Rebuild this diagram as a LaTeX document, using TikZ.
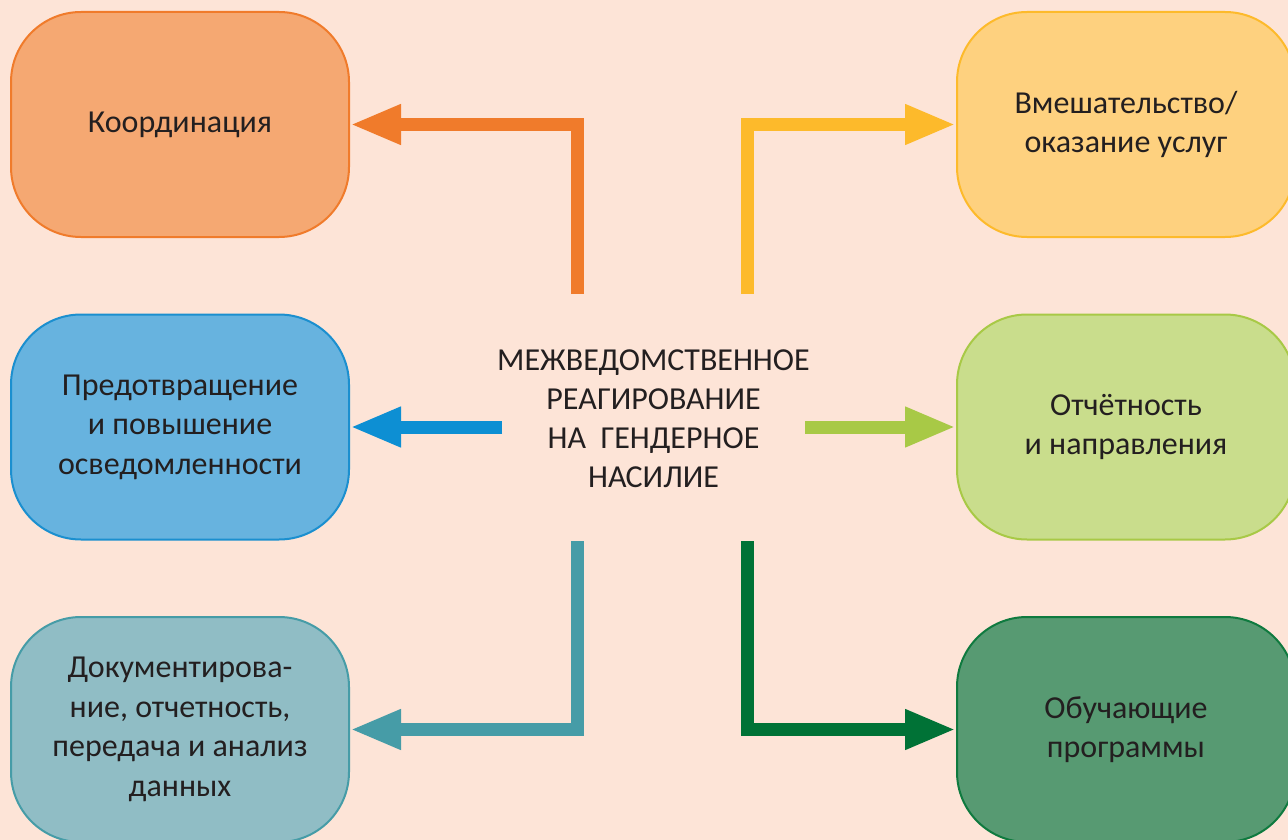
\documentclass[tikz,border=0pt]{standalone}
\usepackage{fontspec}
\setmainfont{Carlito}
\usetikzlibrary{arrows.meta}
\definecolor{bgpeach}{HTML}{FDE4D7}
\definecolor{textgray}{HTML}{231F20}
\definecolor{orangeA}{HTML}{F07B2B}
\definecolor{orangeF}{HTML}{F5A872}
\definecolor{yellowA}{HTML}{FDBA2B}
\definecolor{yellowF}{HTML}{FED17F}
\definecolor{blueA}{HTML}{0D8FD3}
\definecolor{blueB}{HTML}{1B8FCF}
\definecolor{blueF}{HTML}{67B3DF}
\definecolor{lgreenA}{HTML}{A8C946}
\definecolor{lgreenF}{HTML}{C9DD8C}
\definecolor{tealA}{HTML}{469CA7}
\definecolor{tealF}{HTML}{90BDC5}
\definecolor{dgreenA}{HTML}{007236}
\definecolor{dgreenB}{HTML}{0F7A3F}
\definecolor{dgreenF}{HTML}{579A72}
\tikzstyle{topic} = [rectangle, rounded corners=70pt, minimum width=338pt, minimum height=225pt, align=center, line width=2pt, text=textgray, font=\fontsize{32}{39.5}\selectfont]
\tikzstyle{hub} = [rectangle, inner sep=0pt, align=center, text=textgray, font=\fontsize{32}{39}\selectfont]
\tikzstyle{pipe} = [line width=13pt, -{Triangle[width=37pt,length=51pt]}]
\begin{document}
\begin{tikzpicture}[x=1pt, y=-1pt, node distance=302.5pt]
\clip (0,0) rectangle (1288,840);
\fill [bgpeach] (0,0) rectangle (1288,840);
\node (ko) [topic, draw=orangeA, fill=orangeF] at (180,124.5) {Координация};
\node (pr) [topic, draw=blueB, fill=blueF, below of=ko] {Предотвращение\\и повышение\\осведомленности};
\node (dok) [topic, draw=tealA, fill=tealF, below of=pr] {Документирова-\\ние, отчетность,\\передача и анализ\\данных};
\node (vm) [topic, draw=yellowA, fill=yellowF, right of=ko, xshift=643.5pt] {Вмешательство/\\оказание услуг};
\node (ot) [topic, draw=lgreenA, fill=lgreenF, below of=vm] {Отчётность\\и направления};
\node (ob) [topic, draw=dgreenB, fill=dgreenF, below of=ot] {Обучающие\\программы};
\node (gbv) [hub] at (653.5,419) {МЕЖВЕДОМСТВЕННОЕ\\РЕАГИРОВАНИЕ\\НА\ \ ГЕНДЕРНОЕ\\НАСИЛИЕ};
% start points of the arrows around the centre text
\coordinate (koSt) at ([xshift=-76.5pt, yshift=125pt]gbv.center);
\coordinate (vmSt) at ([xshift=94pt, yshift=125pt]gbv.center);
\coordinate (prSt) at ([xshift=-151.5pt]gbv.center);
\coordinate (otSt) at ([xshift=151.5pt]gbv.center);
\coordinate (dokSt) at ([xshift=-76.5pt, yshift=-122pt]gbv.center);
\coordinate (obSt) at ([xshift=94pt, yshift=-122pt]gbv.center);
\draw [pipe, orangeA] (koSt) |- (ko.east);
\draw [pipe, yellowA] (vmSt) |- (vm.west);
\draw [pipe, blueA] (prSt |- pr.east) -- (pr.east);
\draw [pipe, lgreenA] (otSt |- ot.west) -- (ot.west);
\draw [pipe, tealA] (dokSt) |- (dok.east);
\draw [pipe, dgreenA] (obSt) |- (ob.west);
\end{tikzpicture}
\end{document}
